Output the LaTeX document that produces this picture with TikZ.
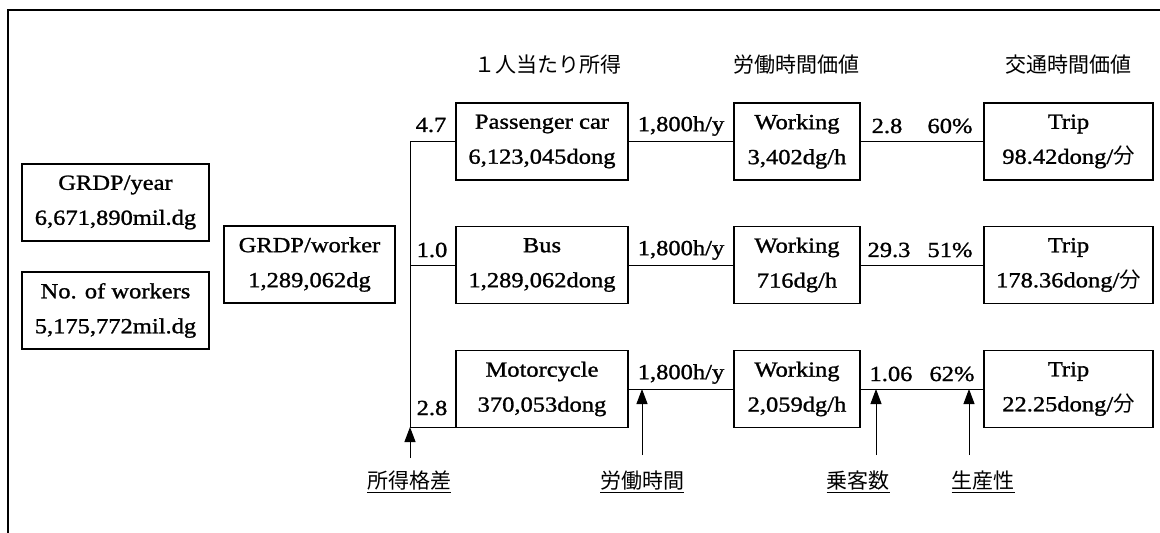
\documentclass[tikz,border=0pt]{standalone}
\usepackage{fontspec}
\setmainfont[FakeStretch=1.14,FakeBold=1.2]{Liberation Serif}
\newfontfamily\jp{Noto Sans CJK JP}
\usetikzlibrary{arrows.meta}
\begin{document}
\begin{tikzpicture}[x=1pt,y=-1pt,
  every node/.style={font=\fontsize{21.5}{35}\selectfont, inner sep=0pt},
  box/.style={draw, line width=1.3pt, minimum height=77pt, align=center},
  vbox/.style={box, minimum width=172pt},
  wbox/.style={box, minimum width=126pt},
  tbox/.style={box, minimum width=169pt},
  conn/.style={line width=0.9pt},
  up/.style={line width=1pt, -{Triangle[length=15pt,width=11pt]}},
  jlab/.style={font=\jp\fontsize{21}{24}\selectfont},
  elab/.style={font=\fontsize{21.5}{24}\selectfont}]
\useasboundingbox (0,0) rectangle (1160,533);
% frame
\draw[line width=1.8pt] (8,533) -- (8,10) -- (1160,10);
% headings
\node[jlab] (h1) at (548,65) {１人当たり所得};
\node[jlab] (h2) at (796,65) {労働時間価値};
\node[jlab] (h3) at (1068,65) {交通時間価値};
% left boxes
\node[box, minimum width=187pt] (gy) at (115.5,202.5) {GRDP/year\\6,671,890mil.dg};
\node[box, minimum width=187pt] (nw) at (115.5,310.5) {No. of workers\\5,175,772mil.dg};
\node[box, minimum width=171pt] (gw) at (309.5,264.5) {GRDP/worker\\1,289,062dg};
% vehicle boxes
\node[vbox] (pc) at (542,141.5) {Passenger car\\6,123,045dong};
\node[vbox] (bus) at (542,265) {Bus\\1,289,062dong};
\node[vbox] (mc) at (542,389) {Motorcycle\\370,053dong};
% working boxes
\node[wbox] (w1) at (797,141.5) {Working\\3,402dg/h};
\node[wbox] (w2) at (797,265) {Working\\716dg/h};
\node[wbox] (w3) at (797,389) {Working\\2,059dg/h};
% trip boxes
\node[tbox] (t1) at (1068.5,141.5) {Trip\\98.42dong/{\jp 分}};
\node[tbox] (t2) at (1068.5,265) {Trip\\178.36dong/{\jp 分}};
\node[tbox] (t3) at (1068.5,389) {Trip\\22.25dong/{\jp 分}};
% branching
\coordinate (v1) at (410,141.5);
\coordinate (v2) at (410,265);
\coordinate (v3) at (410,427);
\draw[conn] (v1) -- (v3);
\draw[conn] (v1) -- (pc.west);
\draw[conn] (v2) -- (bus.west);
\draw[conn] (v3) -- (v3 -| mc.west);
% rows
\draw[conn] (pc.east) -- (w1.west);
\draw[conn] (w1.east) -- (t1.west);
\draw[conn] (bus.east) -- (w2.west);
\draw[conn] (w2.east) -- (t2.west);
\draw[conn] (mc.east) -- (w3.west);
\draw[conn] (w3.east) -- (t3.west);
% edge labels
\node[elab] (l47) at (431,125) {4.7};
\node[elab] (l10) at (432,250) {1.0};
\node[elab] (l28a) at (432,408) {2.8};
\node[elab] (h1a) at (681,126) {1,800h/y};
\node[elab] (h1b) at (681,250) {1,800h/y};
\node[elab] (h1c) at (681,374) {1,800h/y};
\node[elab] (r1a) at (887,126) {2.8};
\node[elab] (r1b) at (950,126) {60\%};
\node[elab] (r2a) at (889,250) {29.3};
\node[elab] (r2b) at (950,250) {51\%};
\node[elab] (r3a) at (891,374) {1.06};
\node[elab] (r3b) at (952,374) {62\%};
% bottom factors
\node[jlab] (f1) at (409,482) {\underline{所得格差}};
\node[jlab] (f2) at (642,482) {\underline{労働時間}};
\node[jlab] (f3) at (858,482) {\underline{乗客数}};
\node[jlab] (f4) at (983,482) {\underline{生産性}};
\coordinate (a1) at (410,458);
\coordinate (a2) at (642,455);
\coordinate (a3) at (876,455);
\coordinate (a4) at (969,455);
\draw[up] (a1) -- (v3);
\draw[up] (a2) -- (a2 |- mc.east);
\draw[up] (a3) -- (a3 |- mc.east);
\draw[up] (a4) -- (a4 |- mc.east);
\end{tikzpicture}
\end{document}
